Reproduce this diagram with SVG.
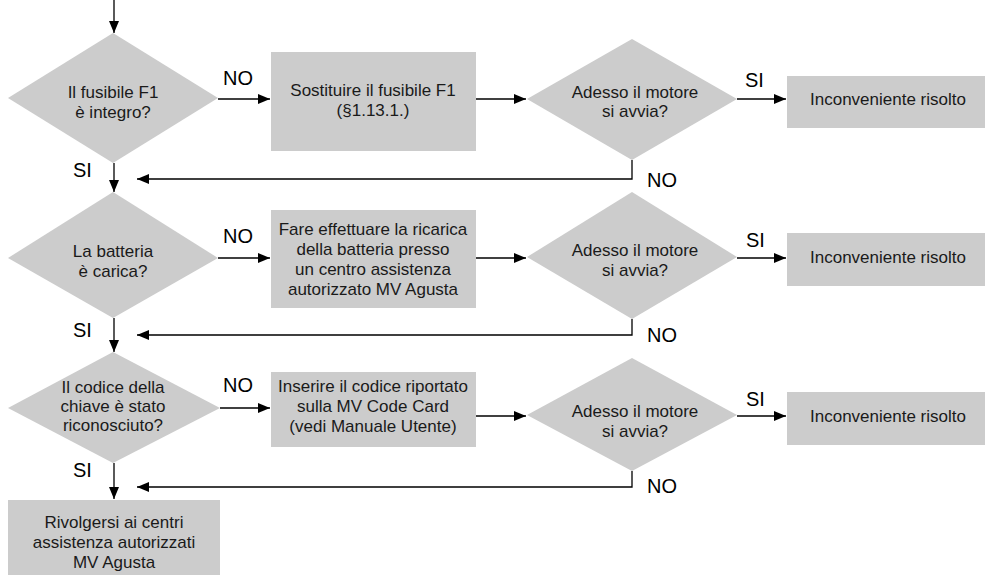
<svg xmlns="http://www.w3.org/2000/svg" width="986" height="575" viewBox="0 0 986 575">
<defs>
<marker id="ah" markerUnits="userSpaceOnUse" markerWidth="12" markerHeight="10" refX="12" refY="5" orient="auto">
<path d="M0,0 L12,5 L0,10 Z" fill="#000"/>
</marker>
<style>
.shape{fill:#cccccc;stroke:none}
.t{font-family:"Liberation Sans",Arial,sans-serif;font-size:17px;fill:#1a1a1a;text-anchor:middle}
.lbl{font-family:"Liberation Sans",Arial,sans-serif;font-size:20px;fill:#000}
.c{fill:none;stroke:#000;stroke-width:1.3}
</style>
</defs>
<rect width="986" height="575" fill="#fff"/>

<g id="d1"><polygon class="shape" points="113,33 218,98 113,163 8,98"/>
<text class="t" x="113" y="98">Il fusibile F1</text><text class="t" x="113" y="118">è integro?</text></g>
<g id="b1"><rect class="shape" x="271" y="52" width="205" height="99"/>
<text class="t" x="373" y="96">Sostituire il fusibile F1</text><text class="t" x="373" y="116">(§1.13.1.)</text></g>
<g id="d2"><polygon class="shape" points="632,39 737,99 632,160 527,99"/>
<text class="t" x="635" y="98">Adesso il motore</text><text class="t" x="635" y="117">si avvia?</text></g>
<g id="r1"><rect class="shape" x="787" y="76" width="198" height="52"/>
<text class="t" x="888" y="105">Inconveniente risolto</text></g>

<g id="d3"><polygon class="shape" points="113,192 218,258 113,318 8,258"/>
<text class="t" x="113" y="257">La batteria</text><text class="t" x="113" y="277">è carica?</text></g>
<g id="b2"><rect class="shape" x="271" y="210" width="205" height="98"/>
<text class="t" x="373" y="235">Fare effettuare la ricarica</text><text class="t" x="373" y="255">della batteria presso</text><text class="t" x="373" y="275">un centro assistenza</text><text class="t" x="373" y="295">autorizzato MV Agusta</text></g>
<g id="d4"><polygon class="shape" points="632,192 737,257 632,319 527,257"/>
<text class="t" x="635" y="256">Adesso il motore</text><text class="t" x="635" y="276">si avvia?</text></g>
<g id="r2"><rect class="shape" x="787" y="233" width="198" height="53"/>
<text class="t" x="888" y="263">Inconveniente risolto</text></g>

<g id="d5"><polygon class="shape" points="113,352 220,408 113,463 8,408"/>
<text class="t" x="113" y="393">Il codice della</text><text class="t" x="113" y="412">chiave è stato</text><text class="t" x="113" y="431">riconosciuto?</text></g>
<g id="b3"><rect class="shape" x="271" y="372" width="205" height="75"/>
<text class="t" x="373" y="392">Inserire il codice riportato</text><text class="t" x="373" y="412">sulla MV Code Card</text><text class="t" x="373" y="432">(vedi Manuale Utente)</text></g>
<g id="d6"><polygon class="shape" points="632,358 737,415 632,471 527,415"/>
<text class="t" x="635" y="417">Adesso il motore</text><text class="t" x="635" y="437">si avvia?</text></g>
<g id="r3"><rect class="shape" x="787" y="392" width="198" height="53"/>
<text class="t" x="888" y="422">Inconveniente risolto</text></g>

<g id="end"><rect class="shape" x="8" y="500" width="212" height="75"/>
<text class="t" x="114" y="528">Rivolgersi ai centri</text><text class="t" x="114" y="548">assistenza autorizzati</text><text class="t" x="114" y="568">MV Agusta</text></g>

<g id="connectors">
<line class="c" x1="114" y1="0" x2="114" y2="33" marker-end="url(#ah)"/>
<line class="c" x1="218" y1="99" x2="270" y2="99" marker-end="url(#ah)"/>
<line class="c" x1="476" y1="99" x2="526" y2="99" marker-end="url(#ah)"/>
<line class="c" x1="737" y1="99" x2="786" y2="99" marker-end="url(#ah)"/>
<polyline class="c" points="632,160 632,179 137,179" marker-end="url(#ah)"/>
<line class="c" x1="114" y1="163" x2="114" y2="192" marker-end="url(#ah)"/>

<line class="c" x1="218" y1="258" x2="270" y2="258" marker-end="url(#ah)"/>
<line class="c" x1="476" y1="258" x2="526" y2="258" marker-end="url(#ah)"/>
<line class="c" x1="737" y1="258" x2="786" y2="258" marker-end="url(#ah)"/>
<polyline class="c" points="632,319 632,335 137,335" marker-end="url(#ah)"/>
<line class="c" x1="114" y1="318" x2="114" y2="352" marker-end="url(#ah)"/>

<line class="c" x1="220" y1="408" x2="270" y2="408" marker-end="url(#ah)"/>
<line class="c" x1="476" y1="416" x2="526" y2="416" marker-end="url(#ah)"/>
<line class="c" x1="737" y1="416" x2="786" y2="416" marker-end="url(#ah)"/>
<polyline class="c" points="632,471 632,487 137,487" marker-end="url(#ah)"/>
<line class="c" x1="114" y1="463" x2="114" y2="499" marker-end="url(#ah)"/>
</g>

<g id="labels">
<text class="lbl" x="223" y="85">NO</text>
<text class="lbl" x="745" y="87">SI</text>
<text class="lbl" x="647" y="187">NO</text>
<text class="lbl" x="73" y="177">SI</text>
<text class="lbl" x="223" y="243">NO</text>
<text class="lbl" x="746" y="247">SI</text>
<text class="lbl" x="647" y="342">NO</text>
<text class="lbl" x="73" y="337">SI</text>
<text class="lbl" x="223" y="392">NO</text>
<text class="lbl" x="746" y="406">SI</text>
<text class="lbl" x="647" y="493">NO</text>
<text class="lbl" x="73" y="477">SI</text>
</g>
</svg>
